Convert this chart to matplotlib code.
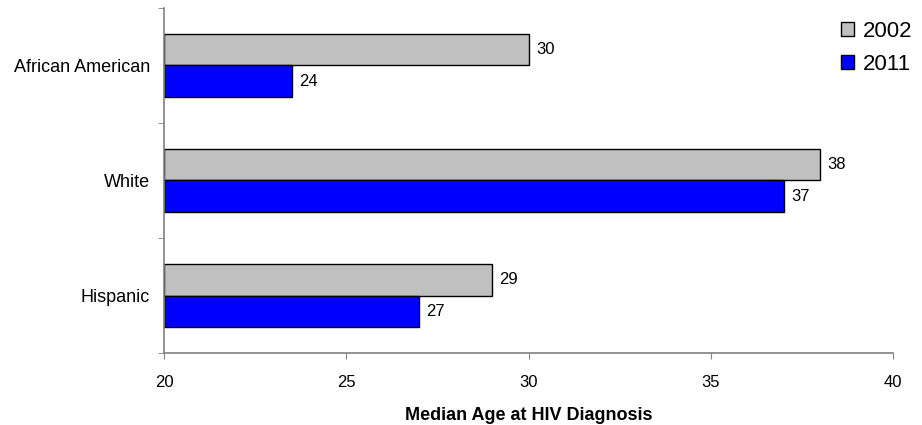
import numpy as np
import matplotlib
matplotlib.use("Agg")
import matplotlib.pyplot as plt
from matplotlib.patches import Patch

plt.rcParams['font.family'] = ['Liberation Sans', 'DejaVu Sans']

# Median age at HIV diagnosis by race/ethnicity
groups = ["African American", "White", "Hispanic"]
years = ["2002", "2011"]
age_2002 = [30, 38, 29]
age_2011 = [23.5, 37, 27]
bar_colors = ["#C0C0C0", "#0000FF"]

fig = plt.figure(figsize=(9.22, 4.25), dpi=100)
ax = fig.add_axes([0.1779, 0.1694, 0.7907, 0.8118])

y = np.arange(len(groups))
h = 0.275
for vals, off, col in [(age_2002, -h / 2, bar_colors[0]), (age_2011, h / 2, bar_colors[1])]:
    bars = ax.barh(y + off, np.array(vals) - 20, height=h, left=20,
                   color=col, edgecolor="black", linewidth=1.0)
    for b, v in zip(bars, vals):
        ax.text(v + 0.2, b.get_y() + b.get_height() / 2, "%.0f" % v,
                va="center", ha="left", fontsize=12)

ax.set_xlim(20, 40)
ax.set_ylim(2.5, -0.5)
ax.set_xticks([20, 25, 30, 35, 40])
ax.set_yticks(y)
ax.set_yticklabels(groups)
ax.set_yticks([-0.5, 0.5, 1.5, 2.5], minor=True)
ax.tick_params(axis="y", which="major", length=0, pad=10, labelsize=13)
ax.tick_params(axis="y", which="minor", length=4, color="#808080", direction="out")
ax.tick_params(axis="x", length=4, color="#808080", direction="out", pad=12, labelsize=12)

for s in ["top", "right"]:
    ax.spines[s].set_visible(False)
for s in ["left", "bottom"]:
    ax.spines[s].set_color("#808080")
    ax.spines[s].set_linewidth(1.2)

ax.set_xlabel("Median Age at HIV Diagnosis", fontsize=13, fontweight="bold", labelpad=12)

handles = [Patch(facecolor=c, edgecolor="black", linewidth=1.0) for c in bar_colors]
fig.legend(handles, years, loc="upper left", bbox_to_anchor=(841 / 922, 1 - 21 / 425),
           frameon=False, fontsize=16, handlelength=0.6, handleheight=0.6,
           handletextpad=0.4, labelspacing=0.55, borderpad=0, borderaxespad=0)

fig.savefig("out.png", dpi=100)
